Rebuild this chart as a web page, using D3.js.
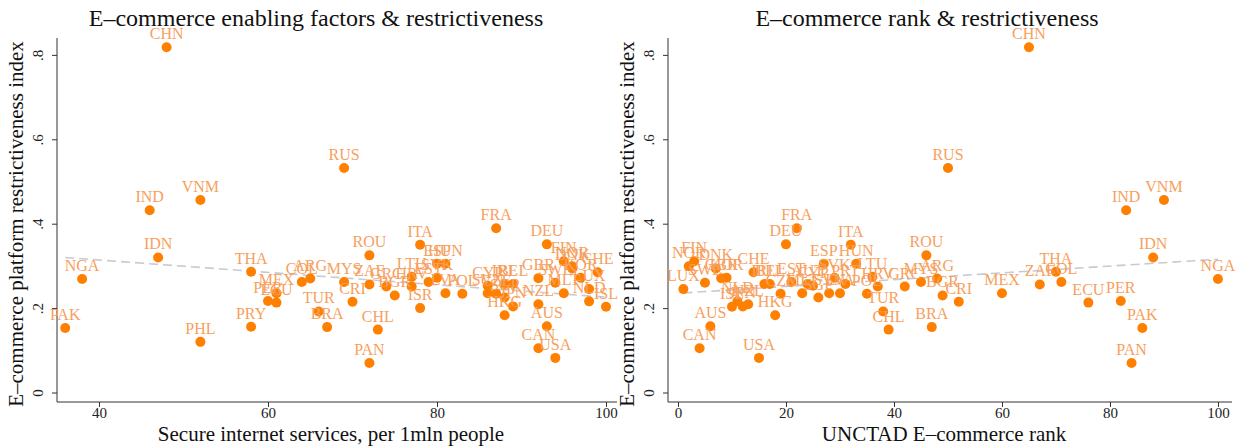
<!DOCTYPE html>
<html>
<head>
<meta charset="utf-8">
<script src="https://cdn.jsdelivr.net/npm/d3@7"></script>
<style>
  body { margin: 0; background: #fff; }
  svg text { font-family: "Liberation Serif", "DejaVu Serif", serif; }
</style>
</head>
<body>
<div id="chart"></div>
<script>
// country codes, secure internet servers, UNCTAD rank, restrictiveness index
const countries = ["PAK","NGA","IND","IDN","CHN","VNM","PHL","THA","PRY","PER","MEX","ECU","COL","ARG","TUR","BRA","MYS","RUS","CRI","ROU","ZAF","PAN","CHL","GRC","BGR","LTU","HRV","ITA","ISR","EST","ESP","SVK","HUN","LVA","POL","CYP","SVN","CZE","FRA","IRL","SGP","BEL","JPN","HKG","GBR","NZL","CAN","DEU","AUS","USA","SWE","FIN","MLT","NOR","DNK","KOR","LUX","NLD","CHE","ISL","AUT","PRT"];
const secureNet = [36,38,46,47,48,52,52,58,58,60,61,61,64,65,66,67,69,69,70,72,72,72,73,74,75,77,77,78,78,79,80,80,81,81,83,86,86,87,87,88,88,89,89,88,92,92,92,93,93,94,94,95,95,96,96,97,98,98,99,100,null,null];
const unctadRank = [86,100,83,88,65,90,null,70,null,82,60,76,71,48,38,47,45,50,52,46,67,84,39,42,49,36,37,32,null,21,27,29,33,30,35,25,28,19,22,16,26,17,12,18,8,13,4,20,6,15,5,3,23,2,7,9,1,11,14,10,24,31];
const restrict = [0.153,0.269,0.432,0.320,0.818,0.456,0.120,0.286,0.156,0.217,0.235,0.213,0.262,0.270,0.192,0.155,0.262,0.532,0.215,0.325,0.256,0.070,0.149,0.251,0.230,0.274,0.251,0.350,0.200,0.262,0.305,0.272,0.305,0.235,0.234,0.253,0.235,0.234,0.389,0.257,0.225,0.257,0.204,0.183,0.271,0.209,0.105,0.351,0.157,0.082,0.260,0.311,0.235,0.299,0.294,0.272,0.245,0.216,0.285,0.203,0.257,0.257];

const yTicks = [0, 0.2, 0.4, 0.6, 0.8];
const leftTicks = [40, 60, 80, 100];
const rightTicks = [0, 20, 40, 60, 80, 100];

const width = 1238, height = 448;
const dotColor = "#ff8000", labelColor = "#f7a05e", fitColor = "#c9c9d1";

const svg = d3.select("#chart").append("svg")
    .attr("width", width)
    .attr("height", height);

const yFmt = d => d === 0 ? "0" : d3.format(".1f")(d).replace(/^0/, "");

function drawPanel(opts) {
    const x = d3.scaleLinear().domain(opts.xDomain).range(opts.xRange);
    const y = d3.scaleLinear().domain([-0.0225, 0.84]).range([402, 38]);
    const g = svg.append("g");

    const pts = countries.map((c, i) => ({ code: c, x: opts.xVals[i], y: restrict[i] }))
        .filter(d => d.x != null);

    // axes
    const yAxis = g.append("g")
        .attr("transform", `translate(${opts.xRange[0]},0)`)
        .call(d3.axisLeft(y).tickValues(yTicks).tickSize(5).tickFormat(yFmt));
    yAxis.select(".domain").attr("d", `M-0,${y.range()[0]}V${y.range()[1]}`);
    yAxis.selectAll(".tick text")
        .attr("x", 0).attr("dy", 0)
        .attr("transform", "rotate(-90) translate(0,-14)")
        .attr("text-anchor", "middle")
        .style("font-size", "15px").attr("fill", "#222");

    const xAxis = g.append("g")
        .attr("transform", `translate(0,${y.range()[0]})`)
        .call(d3.axisBottom(x).tickValues(opts.xTicks).tickSize(5));
    xAxis.select(".domain").attr("d", `M${opts.xRange[0]},0H${opts.xRange[1]}`);
    xAxis.selectAll(".tick text").style("font-size", "15px").attr("fill", "#222").attr("dy", "0.5em");
    g.selectAll(".domain, .tick line").attr("stroke", "#333");

    // fitted line
    const mx = d3.mean(pts, d => d.x), my = d3.mean(pts, d => d.y);
    const slope = d3.sum(pts, d => (d.x - mx) * (d.y - my)) / d3.sum(pts, d => (d.x - mx) ** 2);
    const ext = d3.extent(pts, d => d.x);
    g.append("line")
        .attr("x1", x(ext[0])).attr("y1", y(my + slope * (ext[0] - mx)))
        .attr("x2", x(ext[1])).attr("y2", y(my + slope * (ext[1] - mx)))
        .attr("stroke", fitColor).attr("stroke-width", 1.6)
        .attr("stroke-dasharray", "9,5");

    // points and labels
    g.append("g").selectAll("circle")
        .data(pts).enter().append("circle")
        .attr("cx", d => x(d.x)).attr("cy", d => y(d.y))
        .attr("r", 5).attr("fill", dotColor);

    g.append("g").selectAll("text")
        .data(pts).enter().append("text")
        .attr("x", d => x(d.x)).attr("y", d => y(d.y) - 8)
        .attr("text-anchor", "middle")
        .style("font-size", "16px")
        .attr("fill", labelColor)
        .text(d => d.code);

    // titles
    g.append("text")
        .attr("x", opts.titleX).attr("y", 26)
        .attr("text-anchor", "middle")
        .style("font-size", "24px").attr("fill", "#111")
        .text(opts.title);
    g.append("text")
        .attr("x", (opts.xRange[0] + opts.xRange[1]) / 2 - 6).attr("y", 441)
        .attr("text-anchor", "middle")
        .style("font-size", "21px").attr("fill", "#111")
        .text(opts.xTitle);
    g.append("text")
        .attr("transform", `translate(${opts.xRange[0] - 34},224) rotate(-90)`)
        .attr("text-anchor", "middle")
        .style("font-size", "21px").attr("fill", "#111")
        .text("E–commerce platform restrictiveness index");
}

drawPanel({
    xVals: secureNet, xDomain: [35.03, 101.3], xRange: [57, 617], xTicks: leftTicks,
    title: "E–commerce enabling factors & restrictiveness", titleX: 316,
    xTitle: "Secure internet services, per 1mln people"
});
drawPanel({
    xVals: unctadRank, xDomain: [-1.85, 102.6], xRange: [668, 1232], xTicks: rightTicks,
    title: "E–commerce rank & restrictiveness", titleX: 927,
    xTitle: "UNCTAD E–commerce rank"
});
</script>
</body>
</html>
